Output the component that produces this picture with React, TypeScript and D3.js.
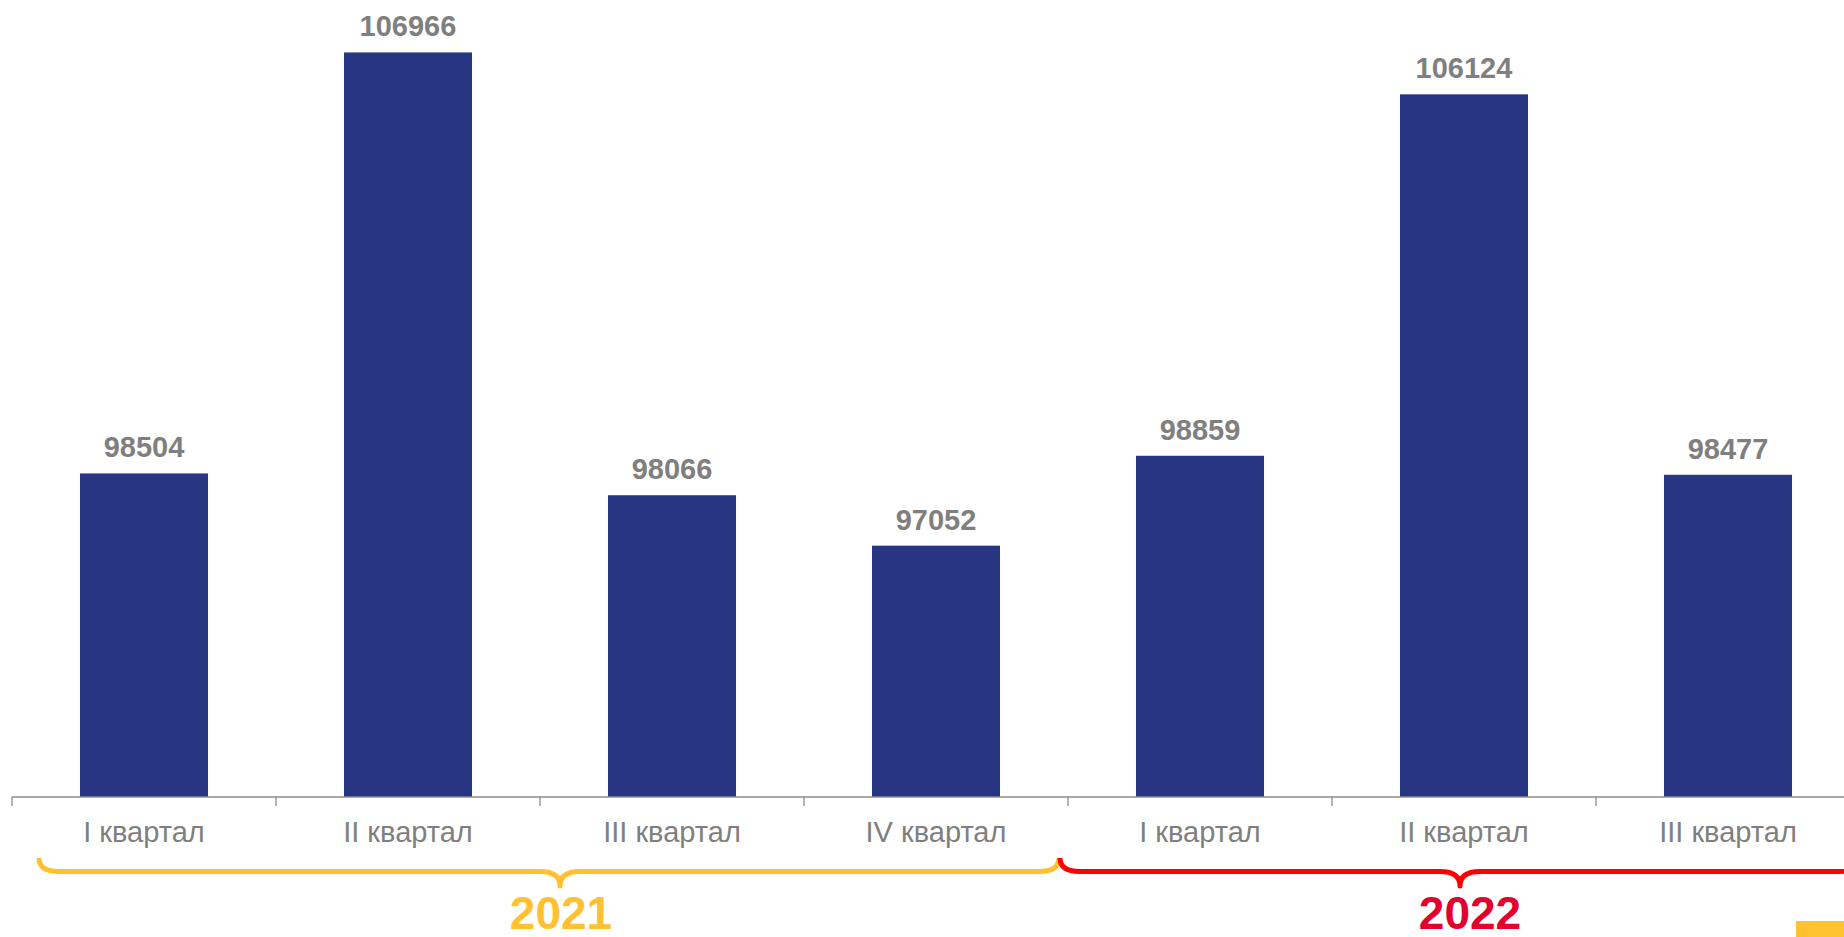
import * as d3 from 'd3'
import React, { useEffect, useRef } from 'react'

const quarters = ['I квартал', 'II квартал', 'III квартал', 'IV квартал', 'I квартал', 'II квартал', 'III квартал']
const values = [98504, 106966, 98066, 97052, 98859, 106124, 98477]
const years = ['2021', '2022']

const W = 1844
const H = 937
const baseline = 797
const barColor = '#283583'
const textGray = '#7f7f7f'
const yearStroke = ['#ffc12f', '#ff0000']
const yearText = ['#ffc12f', '#e2002d']
const font = '"Liberation Sans", Arial, sans-serif'

// curly brace: ends at yTop, flat run at yLine, point at yTip
const bracePath = (x0: number, x1: number, xt: number, yTop: number, yLine: number, yTip: number, r: number) =>
  `M${x0},${yTop} Q${x0},${yLine} ${x0 + r},${yLine} L${xt - r},${yLine} Q${xt},${yLine} ${xt},${yTip}` +
  ` Q${xt},${yLine} ${xt + r},${yLine} L${x1 - r},${yLine} Q${x1},${yLine} ${x1},${yTop}`

const App = () => {
  const ref = useRef(null)

  useEffect(() => {
    if (!ref.current) return
    const svg = d3.select(ref.current)
    svg.selectAll('*').remove()

    const step = 264
    const x0 = 12
    const xScale = d3
      .scaleBand<number>()
      .domain(d3.range(quarters.length))
      .range([x0, x0 + step * quarters.length])
      .paddingInner(0.515)
      .paddingOuter(0.2575)

    const yScale = d3.scaleLinear().domain([92000, 108000]).range([baseline, 1])

    // bars
    svg
      .append('g')
      .selectAll('rect')
      .data(values)
      .join('rect')
      .attr('x', (_, i) => xScale(i) as number)
      .attr('width', xScale.bandwidth())
      .attr('y', (d) => yScale(d))
      .attr('height', (d) => baseline - yScale(d))
      .attr('fill', barColor)

    // value labels
    svg
      .append('g')
      .selectAll('text')
      .data(values)
      .join('text')
      .attr('x', (_, i) => (xScale(i) as number) + xScale.bandwidth() / 2)
      .attr('y', (d) => yScale(d) - 16)
      .attr('text-anchor', 'middle')
      .attr('font-family', font)
      .attr('font-weight', 'bold')
      .attr('font-size', 29)
      .attr('fill', textGray)
      .text((d) => d)

    // x axis line + ticks at band edges
    const axis = svg.append('g').attr('stroke', '#8c8c8c').attr('stroke-width', 1.3)
    axis.append('line').attr('x1', x0).attr('x2', W).attr('y1', baseline).attr('y2', baseline)
    axis
      .selectAll('line.tick')
      .data(d3.range(quarters.length + 1))
      .join('line')
      .attr('class', 'tick')
      .attr('x1', (i) => x0 + i * xScale.step())
      .attr('x2', (i) => x0 + i * xScale.step())
      .attr('y1', baseline)
      .attr('y2', baseline + 9)

    // category labels
    svg
      .append('g')
      .selectAll('text')
      .data(quarters)
      .join('text')
      .attr('x', (_, i) => (xScale(i) as number) + xScale.bandwidth() / 2)
      .attr('y', 842)
      .attr('text-anchor', 'middle')
      .attr('font-family', font)
      .attr('font-size', 29)
      .attr('fill', textGray)
      .text((d) => d)

    // year braces
    const braceLeft = [x0 + 27, x0 + 4 * step - 8]
    const braceRight = [x0 + 4 * step - 9, x0 + 7 * step]
    const braceTip = [x0 + 2 * step + 20, x0 + 5.5 * step - 4]
    const textX = [561, 1470]
    years.forEach((yr, k) => {
      svg
        .append('path')
        .attr('d', bracePath(braceLeft[k], braceRight[k], braceTip[k], 858, 871.5, 886, 20))
        .attr('fill', 'none')
        .attr('stroke', yearStroke[k])
        .attr('stroke-width', 5)
        .attr('stroke-linejoin', 'round')
      svg
        .append('text')
        .attr('x', textX[k])
        .attr('y', 929)
        .attr('text-anchor', 'middle')
        .attr('font-family', font)
        .attr('font-weight', 'bold')
        .attr('font-size', 46)
        .attr('fill', yearText[k])
        .text(yr)
    })

    // small accent block bottom-right
    svg.append('rect').attr('x', 1796).attr('y', 921).attr('width', 48).attr('height', 16).attr('fill', '#ffc12f')
  }, [])

  return (
    <svg
      ref={ref}
      width={W}
      height={H}
      style={{ position: 'absolute', left: 0, top: 0, background: '#fff' }}
    />
  )
}

export default App
